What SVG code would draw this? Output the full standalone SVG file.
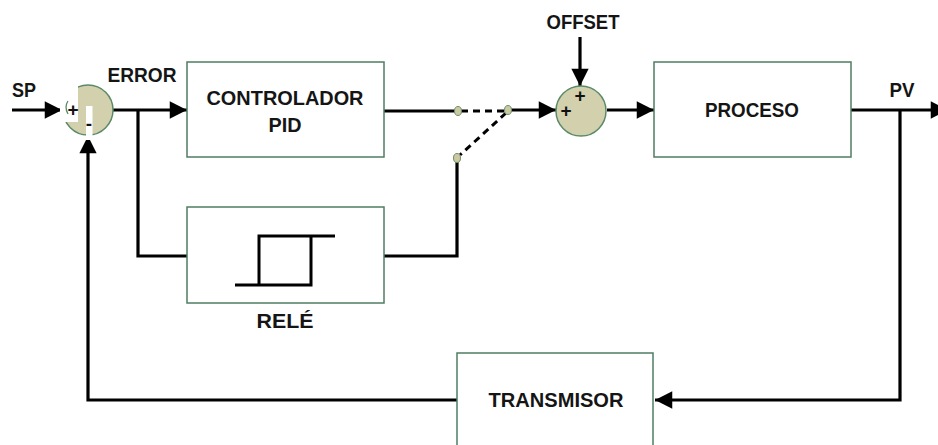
<svg xmlns="http://www.w3.org/2000/svg" width="938" height="445" viewBox="0 0 938 445">
<defs>
<style>
.box{fill:#fff;stroke:#4f7d63;stroke-width:1.5}
.lbl{font-family:"Liberation Sans",Arial,sans-serif;font-weight:bold;font-size:21px;fill:#151515;text-anchor:middle}
.ln{fill:none;stroke:#000;stroke-width:3.2}
.dash{fill:none;stroke:#000;stroke-width:3;stroke-dasharray:7,5}
.sum{fill:#d3d1ad;stroke:#5b8a68;stroke-width:1.5}
.pin{fill:#ccc9a0;stroke:#6a9070;stroke-width:1}
.sg{font-family:"Liberation Sans",Arial,sans-serif;font-weight:bold;font-size:19px;fill:#111;text-anchor:middle}
</style>
<marker id="ah" viewBox="0 0 10 10" refX="10" refY="5" markerWidth="8" markerHeight="5.4" markerUnits="strokeWidth" orient="auto">
<path d="M0,0 L10,5 L0,10 z" fill="#000"/>
</marker>
</defs>
<rect width="938" height="445" fill="#fff"/>

<g id="connectors">
<path class="ln" d="M12,110 H62" marker-end="url(#ah)"/>
<path class="ln" d="M113,110 H187" marker-end="url(#ah)"/>
<path class="ln" d="M138,110 V256 H187"/>
<path class="ln" d="M384,111 H455"/>
<path class="dash" d="M461,111 H505"/>
<path class="dash" d="M506,113 L460,155"/>
<path class="ln" d="M384,256 H457 V161"/>
<path class="ln" d="M511,110 H556" marker-end="url(#ah)"/>
<path class="ln" d="M580,37 V86" marker-end="url(#ah)"/>
<path class="ln" d="M607,110 H654" marker-end="url(#ah)"/>
<path class="ln" d="M851,110 H948" marker-end="url(#ah)"/>
<path class="ln" d="M900,110 V400 H655" marker-end="url(#ah)"/>
<path class="ln" d="M457,400 H88 V136" marker-end="url(#ah)"/>
</g>

<g id="switch">
<ellipse class="pin" cx="458" cy="111" rx="3.5" ry="4.5"/>
<ellipse class="pin" cx="508" cy="110" rx="3.5" ry="4.5"/>
<ellipse class="pin" cx="457" cy="158" rx="3.5" ry="4.5"/>
</g>

<g id="sum1">
<circle class="sum" cx="88" cy="110" r="25"/>
<rect x="60" y="84" width="18" height="38" fill="#fff"/>
<path d="M68,101 Q64,107 68,114" fill="none" stroke="#5b8a68" stroke-width="1.3"/>
<rect x="86" y="106" width="6.5" height="34" fill="#fff"/>
<text class="sg" x="73" y="116" font-size="17">+</text>
<text class="sg" x="89" y="130" font-size="15">-</text>
</g>

<g id="sum2">
<circle class="sum" cx="581" cy="111" r="25"/>
<text class="sg" x="566" y="117">+</text>
<text class="sg" x="580" y="102">+</text>
</g>

<g id="pid">
<rect class="box" x="187" y="62" width="197" height="95"/>
<text class="lbl" x="285" y="105" textLength="157" lengthAdjust="spacingAndGlyphs">CONTROLADOR</text>
<text class="lbl" x="285" y="132" textLength="33" lengthAdjust="spacingAndGlyphs">PID</text>
</g>

<g id="proceso">
<rect class="box" x="654" y="62" width="197" height="95"/>
<text class="lbl" x="752" y="117" textLength="94" lengthAdjust="spacingAndGlyphs">PROCESO</text>
</g>

<g id="rele">
<rect class="box" x="187" y="207" width="197" height="96"/>
<path d="M235,285 H311 V236 H335 M259,285 V236 H311" fill="none" stroke="#000" stroke-width="3"/>
<text class="lbl" x="285" y="328" textLength="57" lengthAdjust="spacingAndGlyphs">RELÉ</text>
</g>

<g id="transmisor">
<rect class="box" x="457" y="353" width="196" height="110"/>
<text class="lbl" x="556" y="407" textLength="135" lengthAdjust="spacingAndGlyphs">TRANSMISOR</text>
</g>

<g id="labels">
<text class="lbl" x="24" y="97" textLength="24" lengthAdjust="spacingAndGlyphs">SP</text>
<text class="lbl" x="142" y="82" textLength="69" lengthAdjust="spacingAndGlyphs">ERROR</text>
<text class="lbl" x="583" y="29" textLength="73" lengthAdjust="spacingAndGlyphs">OFFSET</text>
<text class="lbl" x="902" y="97" textLength="25" lengthAdjust="spacingAndGlyphs">PV</text>
</g>
</svg>
